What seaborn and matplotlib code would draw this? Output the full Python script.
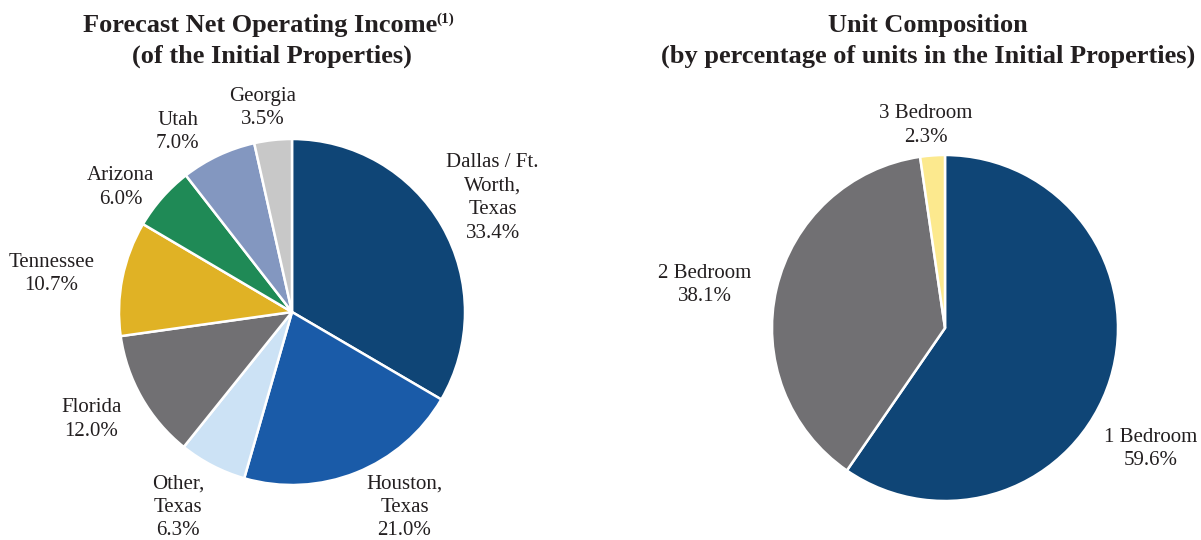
import matplotlib
matplotlib.use("Agg")
import matplotlib.pyplot as plt
import seaborn as sns

sns.set_theme(style="white")
plt.rcParams["font.family"] = ["Liberation Serif", "DejaVu Serif"]

# Forecast net operating income by market (%)
noi_regions = ["Dallas / Ft.\nWorth,\nTexas", "Houston,\nTexas", "Other,\nTexas",
               "Florida", "Tennessee", "Arizona", "Utah", "Georgia"]
noi_share = [33.4, 21.0, 6.3, 12.0, 10.7, 6.0, 7.0, 3.5]

# Unit mix by bedroom count (%)
unit_types = ["1 Bedroom", "2 Bedroom", "3 Bedroom"]
unit_share = [59.6, 38.1, 2.3]

noi_colors = ["#0F4576", "#1A5BA8", "#CCE2F5", "#717073",
              "#E0B225", "#1F8A56", "#8397C0", "#C8C8C8"]
unit_colors = ["#0F4576", "#717073", "#FCE98E"]

# label anchors, in units of the pie radius
noi_label_xy = [(1.16, 0.66), (0.65, -1.13), (-0.66, -1.13), (-1.16, -0.62),
                (-1.39, 0.22), (-0.99, 0.72), (-0.66, 1.04), (-0.17, 1.18)]
unit_label_xy = [(1.19, -0.70), (-1.39, 0.25), (-0.11, 1.17)]

W, H = 1201, 540
fig = plt.figure(figsize=(W / 100, H / 100), dpi=100)
fig.patch.set_facecolor("white")

TEXT = "#231F20"
LABEL_SIZE = 15
TITLE_SIZE = 19


def pie_axes(cx, cy, r):
    return fig.add_axes([(cx - r) / W, (H - cy - r) / H, 2 * r / W, 2 * r / H])


def draw_pie(ax, values, names, colors, label_xy):
    ax.pie(values, colors=colors, startangle=90, counterclock=False,
           wedgeprops=dict(edgecolor="white", linewidth=1.8))
    ax.set_xlim(-1, 1)
    ax.set_ylim(-1, 1)
    ax.set_aspect("equal")
    ax.axis("off")
    for name, v, (x, y) in zip(names, values, label_xy):
        ax.text(x, y, f"{name}\n{v:.1f}%", ha="center", va="center",
                fontsize=LABEL_SIZE, linespacing=1.32, color=TEXT, clip_on=False)


ax1 = pie_axes(292, 312, 173)
draw_pie(ax1, noi_share, noi_regions, noi_colors, noi_label_xy)

ax2 = pie_axes(945, 328, 173)
draw_pie(ax2, unit_share, unit_types, unit_colors, unit_label_xy)

# titles
t1 = fig.text(260 / W, 1 - 32 / H, "Forecast Net Operating Income", ha="center",
              va="baseline", fontsize=TITLE_SIZE, fontweight="bold", color=TEXT)
fig.text(272 / W, 1 - 63 / H, "(of the Initial Properties)", ha="center",
         va="baseline", fontsize=TITLE_SIZE, fontweight="bold", color=TEXT)
fig.canvas.draw()
bb = t1.get_window_extent()
fig.text((bb.x1 - 1) / W, 1 - 23 / H, "(1)", ha="left", va="baseline",
         fontsize=11, fontweight="bold", color=TEXT)

fig.text(928 / W, 1 - 32 / H, "Unit Composition", ha="center", va="baseline",
         fontsize=TITLE_SIZE, fontweight="bold", color=TEXT)
fig.text(928 / W, 1 - 63 / H, "(by percentage of units in the Initial Properties)",
         ha="center", va="baseline", fontsize=TITLE_SIZE, fontweight="bold", color=TEXT)

fig.savefig("out.png", dpi=100, facecolor="white")
